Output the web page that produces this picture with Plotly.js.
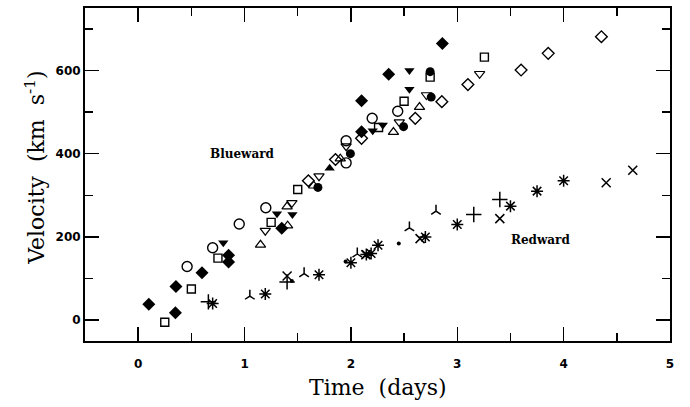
<!DOCTYPE html>
<html>
<head>
<meta charset="utf-8">
<script src="https://cdn.plot.ly/plotly-3.0.1.min.js"></script>
<style>html,body{margin:0;padding:0;background:#fff;}#chart{width:690px;height:407px;}</style>
</head>
<body>
<div id="chart"></div>
<script>
// ---- Blueward data (time in days, velocity in km/s) ----
const fdiamT = [0.10, 0.355, 0.35, 0.60, 0.85, 0.85, 1.35, 2.10, 2.10, 2.355, 2.86];
const fdiamV = [38, 81, 18, 114, 156, 140, 221, 453, 527, 591, 665];
const ocircT = [0.46, 0.70, 0.95, 1.20, 1.955, 1.955, 2.20, 2.44];
const ocircV = [129, 174, 231, 270, 378, 431, 485, 502];
const osqT = [0.25, 0.50, 0.75, 1.25, 1.50, 2.26, 2.50, 2.745, 3.255];
const osqV = [-5, 75, 149, 235, 314, 463, 526, 584, 632];
const ftriDT = [0.80, 1.305, 1.45, 2.205, 2.30, 2.55, 2.55];
const ftriDV = [186, 256, 254, 455, 469, 600, 555];
const otriUT = [1.15, 1.405, 1.40, 1.65, 1.90, 2.40, 2.645];
const otriUV = [181, 227, 273, 323, 388, 452, 512];
const otriDT = [1.195, 1.445, 1.70, 1.955, 2.455, 2.71, 3.21];
const otriDV = [215, 282, 346, 418, 476, 541, 592];
const odiamT = [1.60, 1.855, 2.10, 2.605, 2.855, 3.10, 3.60, 3.855, 4.355];
const odiamV = [335, 386, 437, 485, 525, 566, 601, 641, 681];
const fcircT = [1.69, 1.995, 2.495, 2.755, 2.745];
const fcircV = [319, 400, 465, 536, 597];
const ftriUT = [1.80];
const ftriUV = [365];

// ---- Redward data ----
const plusT = [0.66, 1.40, 3.155, 3.40];
const plusV = [44, 92, 254, 290];
const crossT = [1.40, 2.14, 2.65, 3.40, 4.40, 4.65];
const crossV = [106, 157, 196, 244, 330, 360];
const astT = [0.70, 1.195, 1.70, 2.00, 2.145, 2.19, 2.255, 2.70, 3.00, 3.50, 3.75, 4.00];
const astV = [40, 63, 109, 138, 158, 160, 180, 200, 230, 274, 310, 335];
const triT = [1.05, 1.56, 2.06, 2.55, 2.80];
const triV = [58, 112, 159, 222, 262];
const dotT = [1.445, 1.95, 2.45];
const dotV = [94, 141, 184];

// ---- Labels ----
const xTitle = 'Time&nbsp;&nbsp;(days)';
const yTitle = 'Velocity&nbsp;&nbsp;(km&nbsp;&nbsp;s<sup>-1</sup>)';
const labelBlue = {text: 'Blueward', t: 0.98, v: 400};
const labelRed = {text: 'Redward', t: 3.78, v: 192};

function tr(x, y, symbol, size, lw) {
  return {
    x: x, y: y, type: 'scatter', mode: 'markers', hoverinfo: 'skip',
    marker: {symbol: symbol, size: size, color: '#000', line: {color: '#000', width: lw}}
  };
}

const data = [
  tr(fdiamT, fdiamV, 'diamond', 10, 0),
  tr(ocircT, ocircV, 'circle-open', 10, 1.4),
  tr(osqT, osqV, 'square-open', 8, 1.4),
  tr(ftriDT, ftriDV, 'triangle-down', 9, 0),
  tr(otriUT, otriUV, 'triangle-up-open', 9, 1.2),
  tr(otriDT, otriDV, 'triangle-down-open', 9, 1.2),
  tr(odiamT, odiamV, 'diamond-open', 9, 1.4),
  tr(fcircT, fcircV, 'circle', 9, 0),
  tr(ftriUT, ftriUV, 'triangle-up', 9, 0),
  tr(plusT, plusV, 'cross-thin-open', 11, 1.5),
  tr(crossT, crossV, 'x-thin-open', 9, 1.5),
  tr(astT, astV, 'asterisk-open', 10, 1.5),
  tr(triT, triV, 'y-up-open', 8, 1.5),
  tr(dotT, dotV, 'circle', 4, 0)
];

const axisCommon = {
  showgrid: false, zeroline: false, showline: true, linecolor: '#000', linewidth: 2,
  mirror: 'allticks', ticks: 'inside', ticklen: 14, tickwidth: 1.5, tickcolor: '#000',
  tickfont: {family: 'DejaVu Sans', size: 12, color: '#000', weight: 'bold'}
};

const titleFont = {family: 'DejaVu Serif', size: 22, color: '#000'};

const layout = {
  width: 690, height: 407,
  margin: {l: 85, r: 20, t: 8, b: 66},
  paper_bgcolor: '#fff', plot_bgcolor: '#fff',
  showlegend: false,
  xaxis: Object.assign({}, axisCommon, {
    range: [-0.5, 5], tick0: 0, dtick: 1, ticklabelstandoff: 11,
    minor: {dtick: 0.5, ticks: 'inside', ticklen: 8, tickwidth: 1.5, tickcolor: '#000'}
  }),
  yaxis: Object.assign({}, axisCommon, {
    range: [-50, 750], tick0: 0, dtick: 200,
    minor: {dtick: 100, ticks: 'inside', ticklen: 8, tickwidth: 1.5, tickcolor: '#000'}
  }),
  annotations: [labelBlue, labelRed].map(l => ({
    x: l.t, y: l.v, xref: 'x', yref: 'y', text: l.text, showarrow: false,
    font: {family: 'DejaVu Serif', size: 12, color: '#000', weight: 'bold'}
  })).concat([
    {x: 0.5, y: -0.141, xref: 'paper', yref: 'paper', text: xTitle, showarrow: false,
     xanchor: 'center', yanchor: 'middle', font: titleFont},
    {x: -0.0855, y: 0.52, xref: 'paper', yref: 'paper', text: yTitle, showarrow: false,
     xanchor: 'center', yanchor: 'middle', textangle: -90, font: titleFont}
  ])
};

Plotly.newPlot('chart', data, layout, {staticPlot: true, displayModeBar: false});
</script>
</body>
</html>
